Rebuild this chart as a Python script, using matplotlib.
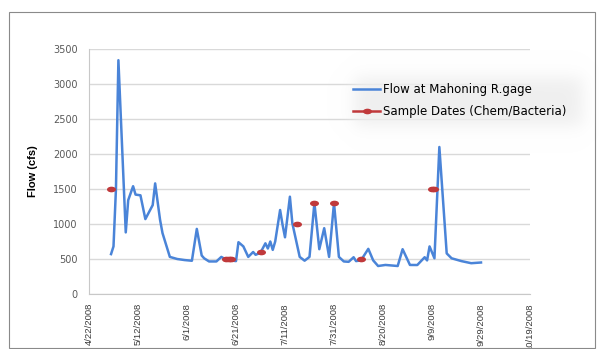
import numpy as np
import pandas as pd
import matplotlib
matplotlib.use("Agg")
import matplotlib.pyplot as plt
from matplotlib.path import Path
from matplotlib.transforms import Affine2D
from matplotlib.patches import Rectangle

# daily flow at the Mahoning River gage (cfs), turning points only
flow_dates = ["2008-05-01", "2008-05-02", "2008-05-03", "2008-05-04", "2008-05-07",
              "2008-05-08", "2008-05-10", "2008-05-11", "2008-05-13", "2008-05-15",
              "2008-05-18", "2008-05-19", "2008-05-21", "2008-05-22", "2008-05-25",
              "2008-05-28", "2008-05-31", "2008-06-03", "2008-06-05", "2008-06-07",
              "2008-06-08", "2008-06-10", "2008-06-13", "2008-06-15", "2008-06-17",
              "2008-06-19", "2008-06-21", "2008-06-22", "2008-06-24", "2008-06-26",
              "2008-06-28", "2008-06-29", "2008-07-01", "2008-07-03", "2008-07-04",
              "2008-07-05", "2008-07-06", "2008-07-07", "2008-07-09", "2008-07-10",
              "2008-07-11", "2008-07-13", "2008-07-14", "2008-07-17", "2008-07-19",
              "2008-07-21", "2008-07-23", "2008-07-25", "2008-07-27", "2008-07-29",
              "2008-07-31", "2008-08-02", "2008-08-04", "2008-08-06", "2008-08-08",
              "2008-08-09", "2008-08-11", "2008-08-14", "2008-08-16", "2008-08-18",
              "2008-08-21", "2008-08-26", "2008-08-28", "2008-08-31", "2008-09-03",
              "2008-09-06", "2008-09-07", "2008-09-08", "2008-09-10", "2008-09-12",
              "2008-09-15", "2008-09-17", "2008-09-21", "2008-09-25", "2008-09-29"]
flow_cfs = [570, 680, 1500, 3340, 880,
            1340, 1540, 1420, 1410, 1070,
            1270, 1580, 1060, 870, 530,
            500, 485, 475, 930, 550,
            510, 465, 465, 530, 490,
            480, 470, 740, 680, 530,
            600, 560, 590, 724, 650,
            750, 630, 750, 1200, 990,
            810, 1390, 1010, 530, 476,
            530, 1300, 640, 940, 530,
            1300, 530, 465, 460, 525,
            470, 480, 645, 480, 400,
            415, 400, 640, 415, 414,
            525, 480, 680, 510, 2100,
            580, 510, 470, 440, 450]

# chemistry / bacteria sampling days
sample_dates = ["2008-05-01", "2008-06-17", "2008-06-18", "2008-06-19", "2008-07-01",
                "2008-07-16", "2008-07-23", "2008-07-31", "2008-08-11", "2008-09-09",
                "2008-09-10"]
sample_cfs = [1500, 500, 500, 500, 600, 1000, 1300, 1300, 500, 1500, 1500]

y_ticks = [0, 500, 1000, 1500, 2000, 2500, 3000, 3500]

W, H = 599, 349
fig = plt.figure(figsize=(W / 100, H / 100), dpi=100)
ax = fig.add_axes([89 / W, 1 - 294 / H, 441 / W, 245 / H])

flow = pd.Series(flow_cfs, index=pd.to_datetime(flow_dates))
# put samples on a daily index so only back-to-back days get joined
samples = pd.Series(sample_cfs, index=pd.to_datetime(sample_dates))
samples = samples.reindex(pd.date_range(samples.index[0], samples.index[-1], freq="D"))

oval = Path.unit_circle().transformed(Affine2D().scale(1.6, 1.0))

flow_line, = ax.plot(flow.index, flow.values, color="#4a84d8", lw=1.8,
                     label="Flow at Mahoning R.gage", zorder=3)
samp_line, = ax.plot(samples.index, samples.values, color="#c0393b", lw=1.8,
                     marker=oval, markersize=6.5, markeredgewidth=0,
                     label="Sample Dates (Chem/Bacteria)", zorder=4)

start, end = pd.Timestamp("2008-04-22"), pd.Timestamp("2008-10-19")
ax.set_xlim(start, end)
ax.set_ylim(0, 3500)
xt = pd.date_range(start, end, freq="20D")
ax.set_xticks(xt)
ax.set_xticklabels([f"{d.month}/{d.day}/{d.year}" for d in xt], rotation=90,
                   fontsize=6.8, family="Liberation Sans", color="#3a3a3a")
ax.set_yticks(y_ticks)
ax.set_yticklabels([str(v) for v in y_ticks], fontsize=7, family="DejaVu Sans",
                   color="#595959")
ax.tick_params(axis="x", length=0, pad=6.5)
ax.tick_params(axis="y", length=0, pad=8)

ax.grid(axis="y", color="#d9d9d9", lw=1)
ax.set_axisbelow(True)
for s in ["top", "right"]:
    ax.spines[s].set_visible(False)
ax.spines["left"].set_color("#c8c8c8")
ax.spines["bottom"].set_color("#c8c8c8")

fig.text(33 / W, 1 - 171 / H, "Flow (cfs)", rotation=90, ha="center", va="center",
         fontsize=8, fontweight="bold", family="Liberation Sans")

# soft grey glow behind the legend
x = np.arange(W)
y = np.arange(H)
sx = 1 / (1 + np.exp(-(x - 354) / 5.0)) / (1 + np.exp((x - 582) / 5.0))
sy = 1 / (1 + np.exp(-(y - 77) / 5.0)) / (1 + np.exp((y - 125) / 5.0))
alpha = np.outer(sy, sx)
glow = np.zeros((H, W, 4))
glow[..., :3] = 0.94
glow[..., 3] = alpha
fig.figimage(glow, 0, 0, origin="upper", zorder=1, resize=False)

fig.legend(handles=[flow_line, samp_line], loc="upper left",
           bbox_to_anchor=(353 / W, 1 - 83 / H), bbox_transform=fig.transFigure,
           frameon=False, borderpad=0, borderaxespad=0, handlelength=2.3,
           handletextpad=0.2, labelspacing=0.8,
           prop={"family": "DejaVu Sans", "size": 8.5})

fig.add_artist(Rectangle((9 / W, 1 - 348 / H), 586 / W, 336 / H, fill=False,
                         edgecolor="#8a8a8a", lw=0.8, transform=fig.transFigure))

fig.savefig("out.png", dpi=100)
